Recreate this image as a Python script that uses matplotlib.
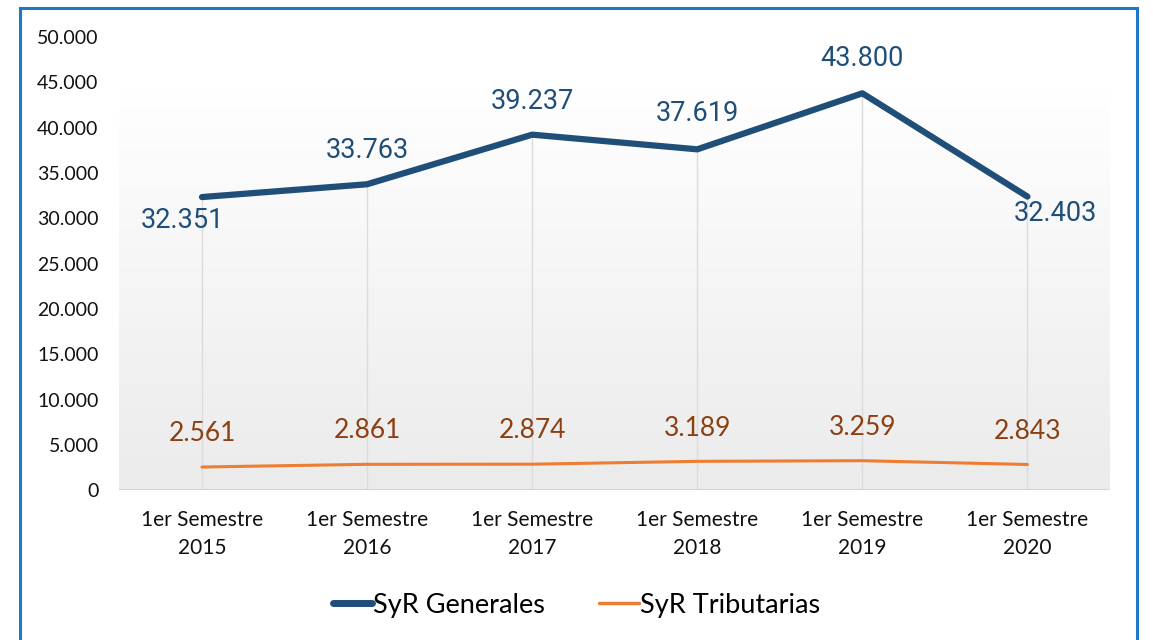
import numpy as np
import matplotlib.pyplot as plt
from matplotlib.colors import LinearSegmentedColormap
from matplotlib.patches import Rectangle
from matplotlib.ticker import FuncFormatter

categories = ["1er Semestre\n2015", "1er Semestre\n2016", "1er Semestre\n2017",
              "1er Semestre\n2018", "1er Semestre\n2019", "1er Semestre\n2020"]
generales = [32351, 33763, 39237, 37619, 43800, 32403]
tributarias = [2561, 2861, 2874, 3189, 3259, 2843]

BLUE = "#1f4e79"
ORANGE = "#ed7d31"
ORANGE_TXT = "#8b3f12"

def fmt_es(v, pos=None):
    return f"{int(v):,}".replace(",", ".")

fig = plt.figure(figsize=(11.53, 6.4), dpi=100)
fig.patch.set_facecolor("white")
ax = fig.add_axes([0.1036, 0.234, 0.8591, 0.708])

x = np.arange(len(categories))

# plot area background: soft vertical gradient
grad = np.linspace(1, 0, 256).reshape(-1, 1)
cmap = LinearSegmentedColormap.from_list("bg", ["#ebebeb", "#ffffff"])
ax.imshow(grad, extent=[-0.5, 5.5, 0, 44400], aspect="auto", cmap=cmap,
          origin="upper", zorder=0)
# drop lines from the upper series down to the axis
ax.vlines(x, 0, generales, color="#dcdcdc", lw=1, zorder=1)
ax.axhline(0, color="#d0d0d0", lw=1.2, zorder=1)

ax.plot(x, generales, color=BLUE, lw=4.5, solid_capstyle="round",
        solid_joinstyle="round", label="SyR Generales", zorder=3)
ax.plot(x, tributarias, color=ORANGE, lw=2.2, solid_capstyle="round",
        label="SyR Tributarias", zorder=3)

# data labels
offsets = [(-14, -17), (0, 24), (0, 24), (0, 26), (0, 25), (20, -12)]
for i, v in enumerate(generales):
    ax.annotate(fmt_es(v), (x[i], v), xytext=offsets[i], textcoords="offset points",
                ha="center", va="center", color=BLUE, fontsize=19.5,
                family="Roboto", zorder=4)
for i, v in enumerate(tributarias):
    ax.annotate(fmt_es(v), (x[i], v), xytext=(0, 24), textcoords="offset points",
                ha="center", va="center", color=ORANGE_TXT, fontsize=19,
                family="Lato", zorder=4)

ax.set_xlim(-0.5, 5.5)
ax.set_ylim(0, 50000)
ax.set_yticks(np.arange(0, 50001, 5000))
ax.yaxis.set_major_formatter(FuncFormatter(fmt_es))
ax.set_xticks(x)
ax.set_xticklabels(categories, linespacing=1.55)
for s in ax.spines.values():
    s.set_visible(False)
ax.tick_params(axis="both", length=0, colors="#111111")
ax.tick_params(axis="y", pad=15, labelsize=14)
ax.tick_params(axis="x", pad=14, labelsize=15)
for lbl in ax.get_xticklabels() + ax.get_yticklabels():
    lbl.set_family("Lato")

leg = fig.legend(loc="center", bbox_to_anchor=(0.5, 0.054), ncol=2, frameon=False,
                 prop={"family": "Lato", "size": 19.5}, handlelength=1.45,
                 handletextpad=0.05, columnspacing=2.0)
leg.get_lines()[0].set_linewidth(5)
leg.get_lines()[1].set_linewidth(2.5)

# blue frame around the chart
fig.patches.append(Rectangle((20 / 1153, -0.05), 1117 / 1153, 1.0 - 8 / 640 + 0.05,
                             transform=fig.transFigure, fill=False,
                             edgecolor="#1f77c8", lw=2.2))

fig.savefig("out.png", dpi=100)
